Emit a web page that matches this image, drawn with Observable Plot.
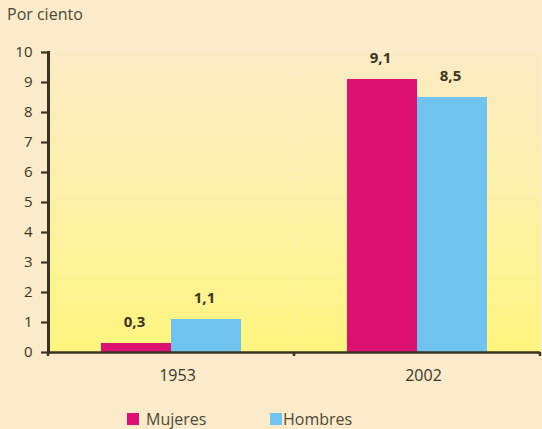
<!DOCTYPE html>
<html><head><meta charset="utf-8">
<script src="https://cdn.jsdelivr.net/npm/d3@7"></script>
<script src="https://cdn.jsdelivr.net/npm/@observablehq/plot@0.6"></script>
<style>
html,body{margin:0;padding:0;background:#fbebcb;}
#wrap{width:542px;height:429px;position:relative;overflow:hidden;font-family:"Open Sans",sans-serif;color:#4d4838;}
#title{position:absolute;left:7px;top:3px;font-size:16px;}
#chart{position:absolute;left:0;top:36px;}
#legend{position:absolute;top:408px;left:0;font-size:16px;height:21px;}
.sw{position:absolute;top:5px;width:12px;height:12px;}
.lt{position:absolute;top:0;white-space:nowrap;}
</style></head>
<body>
<div id="wrap">
  <div id="title">Por ciento</div>
  <div id="chart"></div>
  <div id="legend"></div>
</div>
<script>
const years = ["1953", "2002"];
const sexes = ["Mujeres", "Hombres"];
const mujeres = [0.3, 9.1];
const hombres = [1.1, 8.5];
const yTicks = [0, 1, 2, 3, 4, 5, 6, 7, 8, 9, 10];
const colors = ["#dc1273", "#6fc3ee"];

const data = [];
years.forEach((yr, i) => {
  data.push({year: yr, sex: sexes[0], value: mujeres[i]});
  data.push({year: yr, sex: sexes[1], value: hombres[i]});
});
const fmt = v => v.toFixed(1).replace(".", ",");
const axisColor = "#3b3322";

const plot = Plot.plot({
  width: 542,
  height: 356,
  marginTop: 16,
  marginBottom: 40,
  marginLeft: 47,
  marginRight: 2,
  style: {background: "transparent", fontFamily: "Open Sans, sans-serif", fontSize: "15px", color: "#3d3626", overflow: "visible"},
  fx: {domain: years, padding: 0, label: null, axis: null},
  x: {domain: sexes, paddingInner: 0, paddingOuter: 0.74, axis: null},
  y: {domain: [0, 10], ticks: yTicks, label: null, axis: null},
  color: {domain: sexes, range: colors},
  marks: [
    Plot.frame({fill: "url(#bggrad)", stroke: null}),
    Plot.barY(data, {fx: "year", x: "sex", y: "value", fill: "sex"}),
    Plot.text(data, {fx: "year", x: "sex", y: "value", text: d => fmt(d.value), dy: -21, dx: -2,
      fontWeight: "bold", fontSize: 15, fill: "#3b3525"}),
    Plot.axisY({anchor: "left", ticks: yTicks, tickSize: 7, tickPadding: 9, strokeWidth: 2.2,
      fontSize: 15, label: null}),
    Plot.axisFx({anchor: "bottom", tickSize: 0, tickPadding: 17, dx: 6, fontSize: 16, label: null}),
    Plot.ruleY([0], {stroke: axisColor, strokeWidth: 2.5}),
    Plot.frame({anchor: "left", facetAnchor: "left", stroke: axisColor, strokeWidth: 3})
  ]
});

const svg = d3.select(plot);
const defs = svg.insert("defs", ":first-child");
const g = defs.append("linearGradient").attr("id", "bggrad")
  .attr("x1", 0).attr("y1", 0).attr("x2", 0).attr("y2", 1);
g.append("stop").attr("offset", "0%").attr("stop-color", "#fbeac4");
g.append("stop").attr("offset", "45%").attr("stop-color", "#fcf0ac");
g.append("stop").attr("offset", "100%").attr("stop-color", "#fef47e");

// boundary ticks on the x axis, from the fx scale
const fx = plot.scale("fx");
const yS = plot.scale("y");
const y0 = yS.apply(0);
const edges = years.map(v => fx.apply(v));
edges.push(fx.apply(years[years.length - 1]) + fx.bandwidth);
svg.append("g").selectAll("line").data(edges).join("line")
  .attr("x1", d => d).attr("x2", d => d)
  .attr("y1", y0).attr("y2", y0 + 4)
  .attr("stroke", axisColor).attr("stroke-width", 2.5);

document.getElementById("chart").appendChild(plot);

// legend
const leg = d3.select("#legend");
const legX = [127, 270];
sexes.forEach((s, i) => {
  leg.append("div").attr("class", "sw").style("left", legX[i] + "px").style("background", colors[i]);
  leg.append("div").attr("class", "lt").style("left", (legX[i] + (i === 0 ? 19 : 13)) + "px").text(s);
});
</script>
</body></html>
